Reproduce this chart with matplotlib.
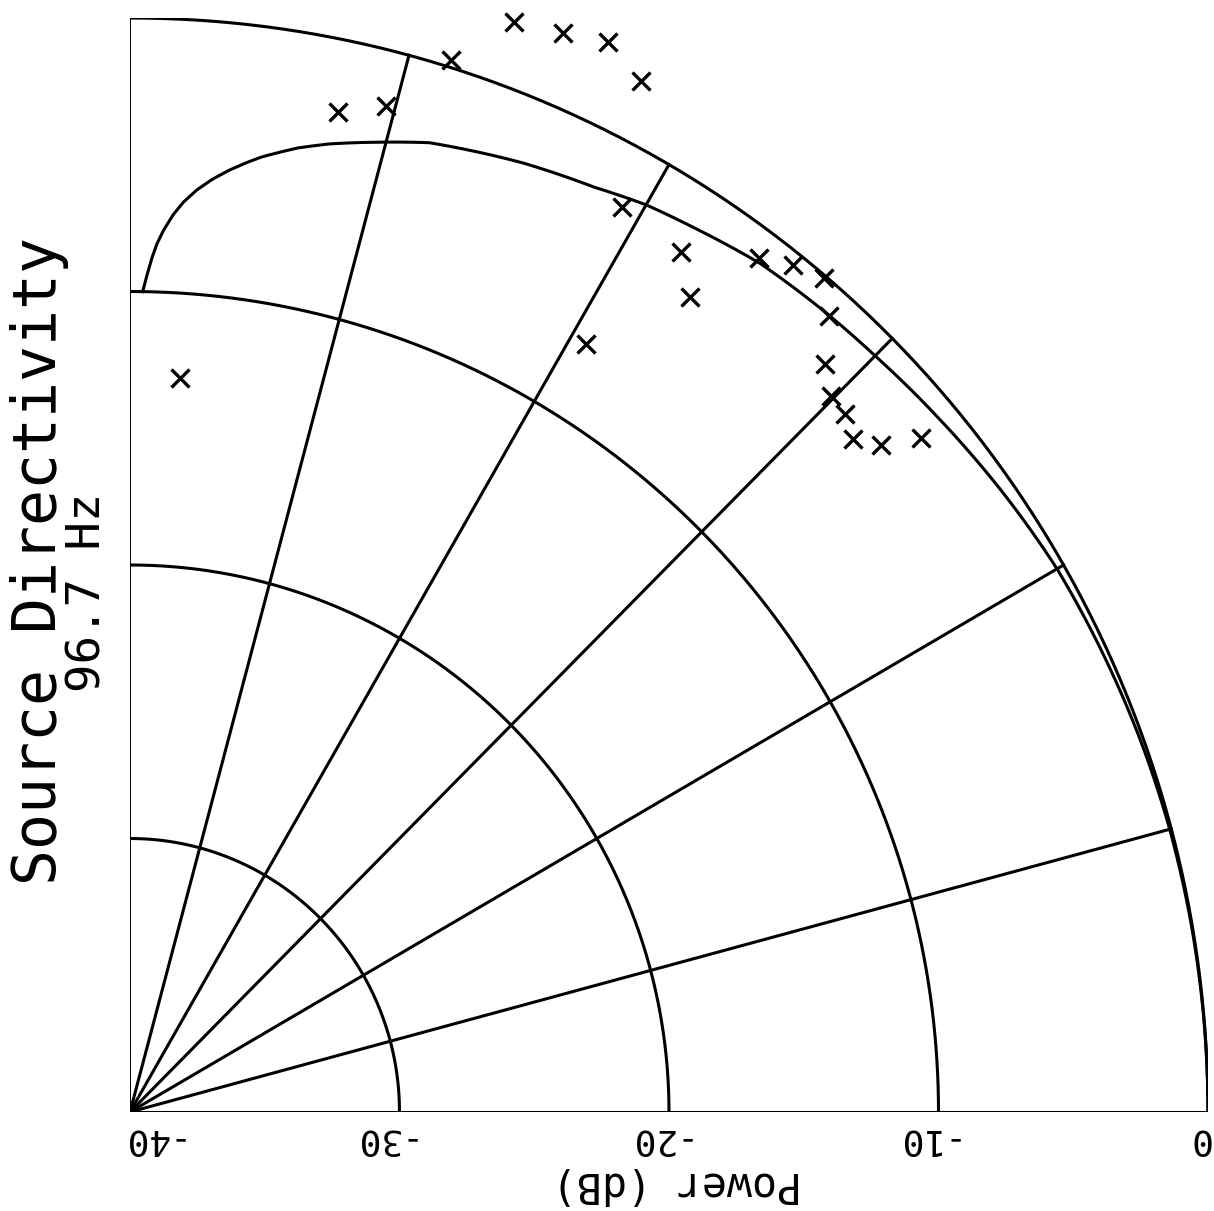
import numpy as np
import matplotlib.pyplot as plt
from matplotlib.path import Path

FLOOR = -40.0

# polar grid
ring_db = [-30, -20, -10, 0]
spoke_deg = [0, 15, 30, 45, 60, 75, 90]
tick_db = [-40, -30, -20, -10, 0]
tick_text = ['-40', '-30', '-20', '-10', '0']
tick_shift = [0.65, -0.75, -0.55, -0.6, -0.35]

# predicted source directivity
curve_deg = [0, 5, 10, 15, 20, 25, 30, 35, 40, 45, 48.5, 53, 57, 60, 63, 67.2,
             70, 72.6, 75.3, 78.2, 80.0, 82.0, 82.9, 83.9, 84.9, 85.8, 86.6,
             87.2, 87.8, 88.2, 88.5, 88.8, 89.1]
curve_db = [0.0, -0.01, -0.03, -0.06, -0.12, -0.2, -0.28, -0.48, -0.7, -0.9,
            -1.0, -1.15, -1.48, -1.7, -2.05, -2.36, -2.62, -2.86, -3.34, -3.84,
            -4.21, -4.73, -5.02, -5.37, -5.77, -6.2, -6.68, -7.15, -7.75,
            -8.25, -8.75, -9.35, -10.0]

# measured levels
meas_deg = [86.05, 78.08, 75.52, 72.79, 70.33, 67.84, 65.6, 63.3, 61.1, 56.96,
            55.1, 58.93, 53.22, 51.53, 49.81, 48.29, 46.68, 45.19, 43.9, 42.53,
            41.19, 40.0]
meas_db = [-13.1, -2.63, -2.01, 0.26, 2.32, 2.6, 2.96, 2.2, -2.21, -2.5,
           -3.67, -7.22, -1.02, -0.45, -0.09, -1.01, -2.41, -3.1, -3.19, -3.59,
           -2.97, -1.68]


def to_xy(deg, db):
    r = np.asarray(db, dtype=float) - FLOOR
    t = np.radians(np.asarray(deg, dtype=float))
    return r * np.cos(t), r * np.sin(t)


def polar_line(deg, db, steps=20):
    # join readings along the polar (angle, level) space, like a polar axes does
    p = Path(np.column_stack([deg, db])).interpolated(steps)
    return to_xy(p.vertices[:, 0], p.vertices[:, 1])


fig = plt.figure(figsize=(12.14, 12.11), dpi=100)
ax = fig.add_axes([130 / 1214, 99 / 1211, 1078 / 1214, 1094 / 1211])
ax.set_xlim(0, 40)
ax.set_ylim(0, 40)
ax.axis('off')

lw = 2.2
for db in ring_db:
    x, y = polar_line([0, 90], [db, db], steps=300)
    ax.plot(x, y, color='black', lw=lw, solid_capstyle='butt')

for d in spoke_deg:
    x, y = to_xy([d, d], [FLOOR, 0])
    ax.plot(x, y, color='black', lw=1.4 if d == 90 else lw)

x, y = polar_line(curve_deg, curve_db)
ax.plot(x, y, color='black', lw=lw, solid_joinstyle='round')

x, y = to_xy(meas_deg, meas_db)
ax.plot(x, y, ls='none', marker='x', ms=13, mew=2.4, color='black',
        clip_on=False)

mono = 'DejaVu Sans Mono'
for db, s, dx in zip(tick_db, tick_text, tick_shift):
    ax.text(db - FLOOR + dx, -1.02, s, rotation=180, ha='center', va='center',
            fontsize=26, family=mono)
ax.text(20.3, -2.65, 'Power (dB)', rotation=180, ha='center', va='center',
        fontsize=30, family=mono)

fig.text(40 / 1214, 1 - 561 / 1211, 'Source Directivity', rotation=90,
         ha='center', va='center', fontsize=43, family=mono)
fig.text(88 / 1214, 1 - 592 / 1211, '96.7 Hz', rotation=90,
         ha='center', va='center', fontsize=34, family=mono)

fig.savefig('out.png', dpi=100, facecolor='white')
